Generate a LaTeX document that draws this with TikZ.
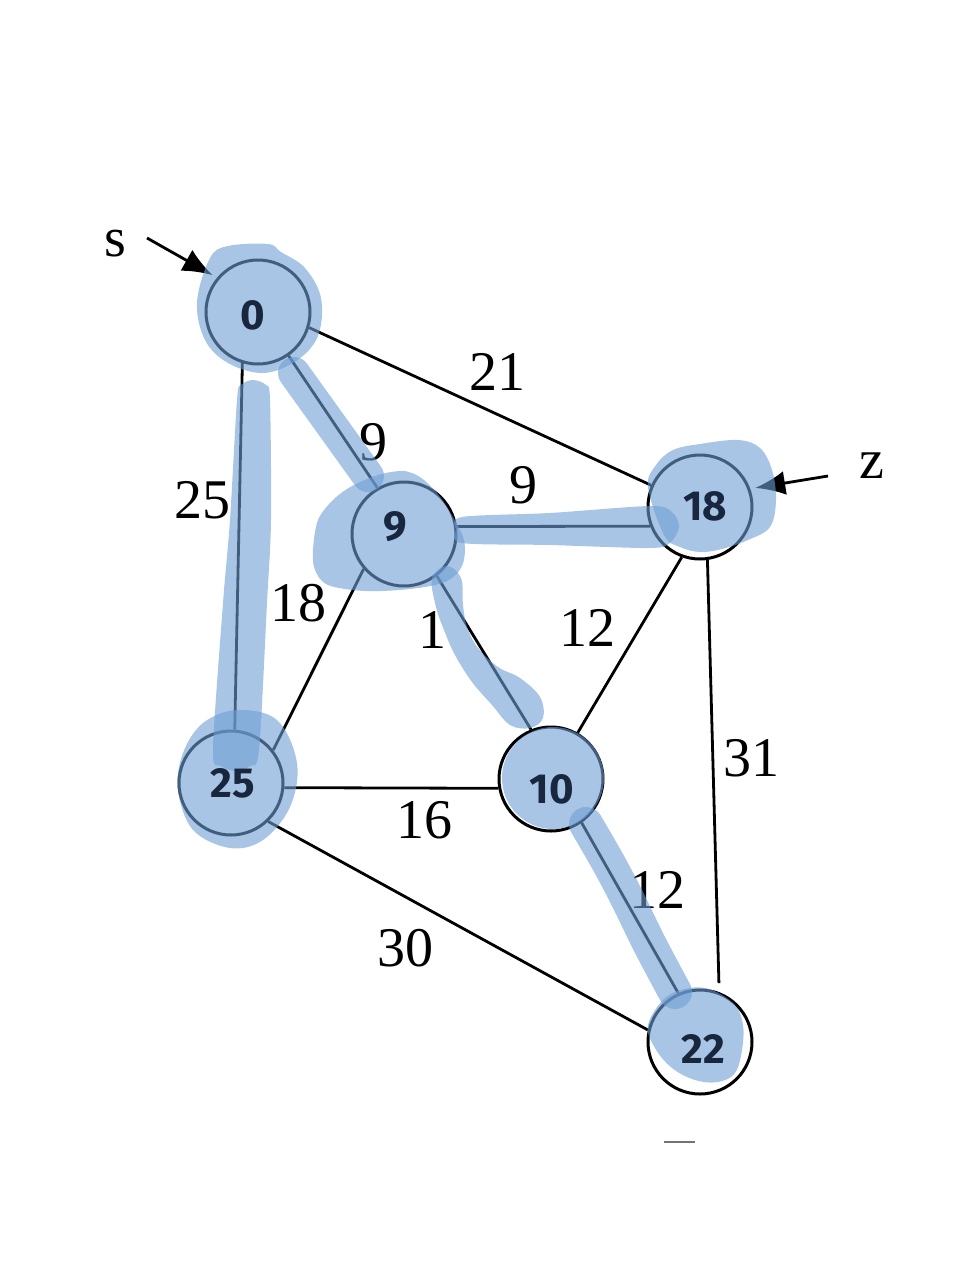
\documentclass[tikz,border=0pt]{standalone}
\usepackage{fontspec}
\setmainfont{Liberation Serif}
\newfontfamily\handfont{Fira Sans}
\usetikzlibrary{arrows.meta}
\definecolor{hlblue}{RGB}{110,158,212}
\definecolor{inkblue}{RGB}{24,38,62}
\begin{document}
\begin{tikzpicture}[x=1pt,y=-1pt,
  vert/.style={circle,draw=black,line width=3pt,minimum size=104pt,inner sep=0pt},
  edge/.style={draw=black,line width=2.8pt},
  elab/.style={font=\fontsize{56}{56}\selectfont,inner sep=0pt},
  hand/.style={font=\handfont\bfseries\fontsize{42}{42}\selectfont,text=inkblue,inner sep=0pt},
  hl/.style={fill=hlblue,fill opacity=0.6},
  hlstroke/.style={draw=hlblue,draw opacity=0.6,line cap=round,line join=round},
  pointer/.style={draw=black,line width=2.8pt,-{Latex[length=30pt,width=24pt]}},
  smallmark/.style={draw=black!55,line width=2pt}]
\useasboundingbox (0,0) rectangle (962,1270);
% vertices
\node[vert] (n0) at (258,312) {};
\node[vert] (n9) at (404,534) {};
\node[vert] (n18) at (700,507) {};
\node[vert] (n25) at (231,783) {};
\node[vert] (n10) at (551,779) {};
\node[vert] (n22) at (700,1042) {};
% edges
\draw[edge] (n0.-17) -- (n18.156);
\draw[edge] (n0.305) -- (n9.120);
\draw[edge] (n0.253) -- (n25.86);
\draw[edge] (n9.8) -- (n18.201);
\draw[edge] (n9.221) -- (n25.38);
\draw[edge] (n9.-52) -- (n10.112);
\draw[edge] (n18.250) -- (n10.60);
\draw[edge,shorten >=9pt] (n18.-82) -- (n22.69);
\draw[edge] (n25.-5) -- (n10.190);
\draw[edge] (n25.-46) -- (n22.167);
\draw[edge] (n10.-55) -- (n22.114);
% edge labels
\node[elab] (l21) at (497,372) {21};
\node[elab] (l09) at (373,442) {9};
\node[elab] (l025) at (202,500) {25};
\node[elab] (l918) at (523,485) {9};
\node[elab] (l925) at (298,603) {18};
\node[elab] (l910) at (432,630) {1};
\node[elab] (l1810) at (587,628) {12};
\node[elab] (l1822) at (751,758) {31};
\node[elab] (l2510) at (424,820) {16};
\node[elab] (l2522) at (405,948) {30};
\node[elab] (l1022) at (657,890) {12};
% start / target markers
\node[elab] (s) at (115,244) {s};
\node[elab] (z) at (872,466) {z};
\coordinate (sst) at (147,238);
\coordinate (zst) at (828,476);
\draw[pointer,shorten >=5pt] (sst) -- (n0.140);
\draw[pointer,shorten >=5pt] (zst) -- (n18.20);
\coordinate (m1) at (664,1142);
\coordinate (m2) at (695,1142);
\draw[smallmark] (m1) -- (m2);
% highlights
\fill[hl] plot[smooth cycle,tension=0.6] coordinates {(210,258) (228,246) (268,244) (281,252) (305,268) (321,298) (318,336) (296,361) (263,373) (228,363) (205,340) (197,302)};
\fill[hl] plot[smooth cycle,tension=0.5] coordinates {(253,380) (266,385) (270,400) (271,520) (267,603) (259,750) (250,766) (236,771) (221,766) (213,750) (223,603) (230,520) (237,400) (241,385)};
\draw[hlstroke,line width=32pt] (294,373) -- (368,476);
\fill[hl] plot[smooth cycle,tension=0.55] coordinates {(313,550) (318,520) (333,500) (352,486) (378,475) (400,471) (412,473) (424,480) (437,493) (450,512) (464,540) (462,566) (445,582) (410,589) (365,591) (328,585) (315,570)};
\fill[hl] plot[smooth cycle,tension=0.5] coordinates {(456,530) (462,517) (550,513) (650,506) (672,512) (679,527) (670,543) (650,548) (550,545) (462,543)};
\fill[hl] plot[smooth cycle,tension=0.6] coordinates {(648,487) (656,465) (673,450) (700,444) (738,440) (760,448) (772,470) (776,500) (770,527) (748,540) (722,549) (700,552) (680,547) (664,535)};
\fill[hl] plot[smooth cycle,tension=0.6] coordinates {(447,566) (432,578) (436,607) (444,630) (455,655) (472,682) (492,705) (510,725) (530,728) (543,718) (540,697) (520,678) (498,667) (478,648) (467,627) (463,605) (461,578)};
\fill[hl] plot[smooth cycle,tension=0.6] coordinates {(178,790) (183,753) (203,723) (237,710) (277,720) (297,763) (290,807) (263,840) (230,848) (193,830)};
\fill[hl] (553,778) circle[radius=51];
\draw[hlstroke,line width=34pt] plot[smooth] coordinates {(586,824) (608,862) (626,896) (650,945) (675,992)};
\fill[hl] plot[smooth cycle,tension=0.6] coordinates {(648,1025) (655,1048) (672,1068) (695,1080) (718,1082) (735,1073) (742,1050) (743,1025) (735,1005) (712,990) (690,988) (665,998)};
% handwritten values
\node[hand] (h0) at (253,315) {0};
\node[hand] (h9) at (395,527) {9};
\node[hand] (h18) at (705,506) {18};
\node[hand] (h25) at (233,783) {25};
\node[hand] (h10) at (552,789) {10};
\node[hand] (h22) at (703,1049) {22};
\end{tikzpicture}
\end{document}
